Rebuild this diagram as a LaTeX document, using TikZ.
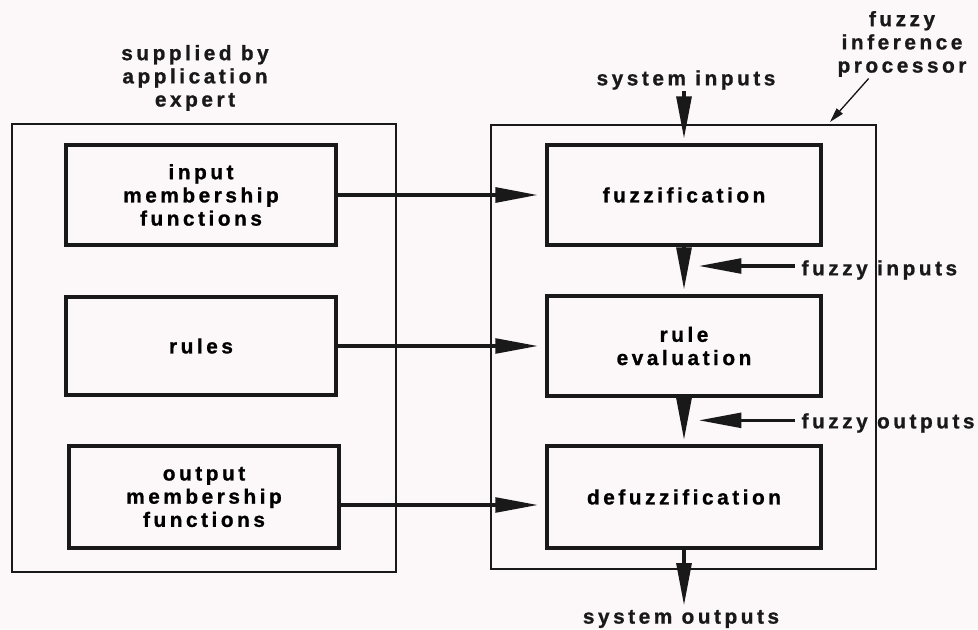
\documentclass[tikz,border=0pt]{standalone}
\usepackage{fontspec}
\newfontfamily\diagfont{Liberation Sans}[LetterSpace=17, FakeBold=1]
\usetikzlibrary{arrows.meta}
\definecolor{paper}{RGB}{252,247,248}
\definecolor{ink}{RGB}{25,25,25}
\tikzset{
  outerbox/.style={draw=ink, line width=1.5pt, inner sep=0pt},
  stage/.style={draw=ink, line width=3pt, inner sep=0pt, align=center,
    minimum width=206pt, minimum height=75pt},
  lbl/.style={align=center, inner sep=1pt, text=ink},
  flow/.style={draw=ink, line width=3pt, -{Triangle[length=32pt,width=11pt]}},
  pointer/.style={draw=ink, line width=1pt, -{Triangle[length=11pt,width=6pt]}}
}

\begin{document}
\begin{tikzpicture}[x=0.75pt, y=-0.75pt,
    font=\diagfont\bfseries\fontsize{15.6}{17.4}\selectfont]
    \fill[paper] (0,0) rectangle (978,629);
    \def\lx{201}; \def\rx{684}; \def\ya{195}; \def\yb{346}; \def\yc{497};

    % the two enclosing frames
    \node[outerbox, minimum width=288pt, minimum height=336pt] (lbox) at (204,348) {};
    \node[outerbox, minimum width=289pt, minimum height=333pt] (rbox) at (683.5,347) {};

    % supplied by the application expert
    \node[stage, minimum width=203pt] (inmf) at (\lx,\ya) {input\\membership\\functions};
    \node[stage, minimum width=203pt, minimum height=73pt] (rules) at (\lx,\yb) {rules};
    \node[stage, minimum width=203pt, minimum height=76pt] (outmf) at (204,\yc) {output\\membership\\functions};

    % fuzzy inference processor
    \node[stage] (fuzz) at (\rx,\ya) {fuzzification};
    \node[stage] (ruleev) at (\rx,\yb) {rule\\evaluation};
    \node[stage, minimum height=76pt] (defuz) at (\rx,\yc) {defuzzification};

    % labels
    \node[lbl] (supplied) at (195,78) {supplied by\\application\\expert};
    \node[lbl] (fip) at (902,44) {fuzzy\\inference\\processor};
    \node[lbl] (sysin) at (686,80) {system inputs};
    \node[lbl, anchor=west] (fin) at (800,270) {fuzzy inputs};
    \node[lbl, anchor=west] (fout) at (800,423) {fuzzy outputs};
    \node[lbl] (sysout) at (681,619) {system outputs};
    \coordinate (fiptip) at (830,122);

    \draw[flow, shorten >=5pt] (inmf.east) -- (inmf.east -| fuzz.west);
    \draw[flow, line width=2.6pt, shorten >=5pt] (rules.east) -- (rules.east -| ruleev.west);
    \draw[flow, line width=2.6pt, shorten >=5pt] ([yshift=-6pt]outmf.east) -- ([yshift=-6pt]outmf.east -| defuz.west);

    \draw[flow, shorten >=3pt] (fuzz.north |- sysin.south) -- (fuzz.north);
    \draw[flow, shorten >=3pt] (fuzz) -- (ruleev);
    \draw[flow, shorten >=3pt] (ruleev) -- (defuz);
    \draw[flow, shorten >=2pt] (defuz.south) -- (defuz.south |- sysout.north);

    \draw[flow, line width=2.6pt, shorten <=4pt, shorten >=11pt] ([yshift=3pt]fin.west) -- ([yshift=3pt]fin.west -| fuzz.south);
    \draw[flow, line width=2.6pt, shorten <=4pt, shorten >=11pt] ([yshift=2pt]fout.west) -- ([yshift=2pt]fout.west -| defuz.north);
    \draw[pointer] ([xshift=-25pt]fip.south) -- (fiptip);
  \end{tikzpicture}
\end{document}
